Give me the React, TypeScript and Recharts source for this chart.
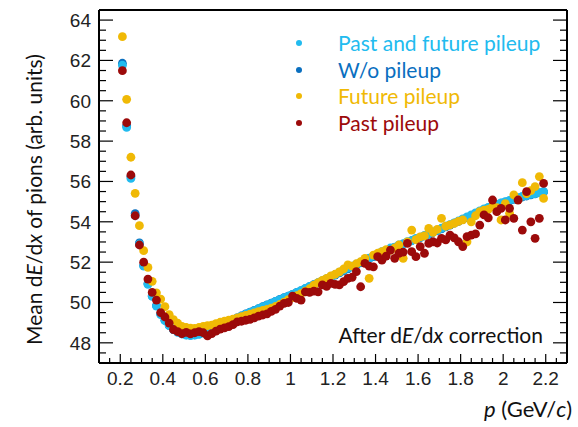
import { ScatterChart, Scatter, XAxis, YAxis } from 'recharts'

// momentum bins (GeV/c)
const momentum = [
  0.21, 0.23, 0.25, 0.27, 0.29, 0.31, 0.33, 0.35, 0.37, 0.39,
  0.41, 0.43, 0.45, 0.47, 0.49, 0.51, 0.53, 0.55, 0.57, 0.59,
  0.61, 0.63, 0.65, 0.67, 0.69, 0.71, 0.73, 0.75, 0.77, 0.79,
  0.81, 0.83, 0.85, 0.87, 0.89, 0.91, 0.93, 0.95, 0.97, 0.99,
  1.01, 1.03, 1.05, 1.07, 1.09, 1.11, 1.13, 1.15, 1.17, 1.19,
  1.21, 1.23, 1.25, 1.27, 1.29, 1.31, 1.33, 1.35, 1.37, 1.39,
  1.41, 1.43, 1.45, 1.47, 1.49, 1.51, 1.53, 1.55, 1.57, 1.59,
  1.61, 1.63, 1.65, 1.67, 1.69, 1.71, 1.73, 1.75, 1.77, 1.79,
  1.81, 1.83, 1.85, 1.87, 1.89, 1.91, 1.93, 1.95, 1.97, 1.99,
  2.01, 2.03, 2.05, 2.07, 2.09, 2.11, 2.13, 2.15, 2.17, 2.19,
]

const pastAndFuture = [
  61.76, 58.68, 56.15, 54.30, 52.90, 51.80, 50.90, 50.30, 49.82, 49.40,
  49.10, 48.85, 48.65, 48.52, 48.44, 48.38, 48.36, 48.38, 48.42, 48.48,
  48.56, 48.66, 48.76, 48.86, 48.96, 49.05, 49.14, 49.24, 49.33, 49.42,
  49.51, 49.60, 49.69, 49.78, 49.87, 49.96, 50.05, 50.14, 50.23, 50.32,
  50.40, 50.50, 50.60, 50.70, 50.80, 50.88, 50.98, 51.08, 51.18, 51.28,
  51.38, 51.50, 51.60, 51.70, 51.80, 51.90, 52.00, 52.10, 52.20, 52.30,
  52.40, 52.52, 52.58, 52.70, 52.74, 52.86, 52.90, 53.02, 53.06, 53.18,
  53.24, 53.32, 53.40, 53.50, 53.58, 53.68, 53.78, 53.86, 53.95, 54.04,
  54.14, 54.24, 54.34, 54.44, 54.54, 54.64, 54.72, 54.80, 54.86, 54.94,
  55.00, 55.06, 55.14, 55.20, 55.26, 55.30, 55.36, 55.40, 55.45, 55.50,
]

const noPileup = [
  61.86, 58.76, 56.24, 54.40, 52.95, 51.84, 50.94, 50.33, 49.85, 49.44,
  49.12, 48.86, 48.66, 48.54, 48.45, 48.40, 48.38, 48.40, 48.44, 48.50,
  48.57, 48.67, 48.77, 48.86, 48.95, 49.05, 49.15, 49.24, 49.34, 49.43,
  49.52, 49.61, 49.70, 49.79, 49.88, 49.97, 50.06, 50.15, 50.24, 50.32,
  50.40, 50.50, 50.58, 50.68, 50.78, 50.88, 50.97, 51.06, 51.16, 51.26,
  51.36, 51.47, 51.57, 51.67, 51.77, 51.87, 51.97, 52.07, 52.17, 52.27,
  52.37, 52.47, 52.56, 52.65, 52.73, 52.82, 52.90, 52.98, 53.06, 53.14,
  53.22, 53.30, 53.38, 53.47, 53.56, 53.65, 53.75, 53.84, 53.93, 54.02,
  54.11, 54.21, 54.31, 54.41, 54.51, 54.60, 54.69, 54.77, 54.84, 54.92,
  54.98, 55.04, 55.11, 55.17, 55.23, 55.28, 55.33, 55.38, 55.43, 55.48,
]

const futurePileup = [
  63.18, 60.07, 57.20, 55.41, 53.81, 52.57, 51.74, 51.05, 50.48, 50.17,
  49.79, 49.40, 49.15, 48.97, 48.82, 48.76, 48.73, 48.72, 48.76, 48.82,
  48.85, 48.88, 48.95, 49.02, 49.08, 49.13, 49.18, 49.24, 49.30, 49.36,
  49.42, 49.48, 49.55, 49.61, 49.66, 49.72, 49.80, 49.90, 50.02, 50.14,
  50.24, 50.34, 50.44, 50.56, 50.68, 50.86, 50.98, 51.10, 51.20, 51.32,
  51.40, 51.52, 51.66, 51.86, 51.80, 51.92, 52.02, 52.19, 51.20, 52.35,
  52.44, 52.52, 52.62, 52.58, 52.70, 52.85, 52.19, 53.00, 53.59, 53.12,
  53.25, 53.30, 53.67, 53.48, 53.62, 54.17, 53.78, 53.85, 53.92, 54.02,
  54.10, 53.01, 54.00, 54.30, 54.50, 54.58, 54.62, 54.75, 54.70, 54.09,
  54.90, 54.42, 55.33, 55.10, 55.94, 55.40, 55.55, 55.74, 56.24, 55.16,
]

const pastPileup = [
  61.49, 58.91, 56.32, 54.30, 52.85, 52.00, 51.16, 50.50, 50.12, 49.50,
  49.28, 48.98, 48.66, 48.56, 48.45, 48.52, 48.44, 48.50, 48.56, 48.50,
  48.34, 48.46, 48.58, 48.68, 48.74, 48.80, 48.90, 49.04, 49.07, 49.12,
  49.16, 49.24, 49.32, 49.38, 49.44, 49.56, 49.66, 49.82, 49.96, 50.00,
  50.32, 50.20, 50.12, 50.53, 50.50, 50.56, 50.53, 50.87, 50.80, 50.95,
  50.90, 50.87, 51.03, 51.20, 51.25, 51.53, 50.78, 51.94, 51.80, 51.77,
  52.27, 52.10, 52.30, 52.60, 52.19, 52.44, 52.50, 52.93, 52.52, 52.27,
  52.77, 52.44, 52.93, 53.01, 52.95, 53.18, 53.10, 53.34, 53.20, 53.01,
  52.77, 53.26, 53.34, 53.40, 53.84, 54.34, 54.20, 55.08, 54.50, 54.67,
  54.09, 54.67, 54.17, 55.08, 53.59, 55.50, 54.00, 53.18, 54.17, 55.90,
]

const xTicks = [
  0.1, 0.15, 0.2, 0.25, 0.3, 0.35, 0.4, 0.45, 0.5, 0.55, 0.6, 0.65, 0.7, 0.75,
  0.8, 0.85, 0.9, 0.95, 1, 1.05, 1.1, 1.15, 1.2, 1.25, 1.3, 1.35, 1.4, 1.45,
  1.5, 1.55, 1.6, 1.65, 1.7, 1.75, 1.8, 1.85, 1.9, 1.95, 2, 2.05, 2.1, 2.15,
  2.2, 2.25, 2.3,
]
const xMajor = [0.2, 0.4, 0.6, 0.8, 1, 1.2, 1.4, 1.6, 1.8, 2, 2.2]

const yTicks = [
  47, 47.5, 48, 48.5, 49, 49.5, 50, 50.5, 51, 51.5, 52, 52.5, 53, 53.5, 54, 54.5,
  55, 55.5, 56, 56.5, 57, 57.5, 58, 58.5, 59, 59.5, 60, 60.5, 61, 61.5, 62, 62.5,
  63, 63.5, 64, 64.5,
]
const yMajor = [48, 50, 52, 54, 56, 58, 60, 62, 64]

const series = [
  { name: 'W/o pileup', color: '#0a6fbf', values: noPileup },
  { name: 'Past and future pileup', color: '#22bbef', values: pastAndFuture },
  { name: 'Future pileup', color: '#f0b905', values: futurePileup },
  { name: 'Past pileup', color: '#9c0a0a', values: pastPileup },
]
const legendOrder = ['Past and future pileup', 'W/o pileup', 'Future pileup', 'Past pileup']

const tickFont = '"Liberation Sans", Arial, sans-serif'
const textFont = 'Lato, "Open Sans", sans-serif'

const isMajor = (v: number, majors: number[]) => majors.some((m) => Math.abs(m - v) < 1e-6)

const BottomTick = ({ x, y, payload }: any) => {
  const major = isMajor(payload.value, xMajor)
  return (
    <g>
      <line x1={x} x2={x} y1={y} y2={y - (major ? 9 : 5)} stroke="#000" strokeWidth={1.2} />
      {major && (
        <text x={x} y={y + 22} textAnchor="middle" fontSize={19} fontFamily={tickFont} fill="#222">
          {payload.value}
        </text>
      )}
    </g>
  )
}

const TopTick = ({ x, y, payload }: any) => {
  const major = isMajor(payload.value, xMajor)
  return <line x1={x} x2={x} y1={y} y2={y + (major ? 9 : 5)} stroke="#000" strokeWidth={1.2} />
}

const LeftTick = ({ x, y, payload }: any) => {
  const major = isMajor(payload.value, yMajor)
  return (
    <g>
      <line x1={x} x2={x + (major ? 14 : 7)} y1={y} y2={y} stroke="#000" strokeWidth={1.2} />
      {major && (
        <text x={x - 8} y={y + 7} textAnchor="end" fontSize={19} fontFamily={tickFont} fill="#222">
          {payload.value}
        </text>
      )}
    </g>
  )
}

const RightTick = ({ x, y, payload }: any) => {
  const major = isMajor(payload.value, yMajor)
  return <line x1={x} x2={x - (major ? 14 : 7)} y1={y} y2={y} stroke="#000" strokeWidth={1.2} />
}

const XTitle = () => (
  <text x={572} y={417} textAnchor="end" fontSize={22} fontFamily={textFont} fill="#111">
    <tspan fontStyle="italic">p</tspan> (GeV/<tspan fontStyle="italic">c</tspan>)
  </text>
)

const YTitle = () => (
  <text
    x={41.5}
    y={345}
    transform="rotate(-90, 41.5, 345)"
    textAnchor="start"
    fontSize={21}
    fontFamily={textFont}
    fill="#111"
  >
    Mean d<tspan fontStyle="italic">E</tspan>/d<tspan fontStyle="italic">x</tspan> of pions (arb. units)
  </text>
)

const Note = () => (
  <text x={543} y={343} textAnchor="end" fontSize={21} fontFamily={textFont} fill="#111">
    After d<tspan fontStyle="italic">E</tspan>/d<tspan fontStyle="italic">x</tspan> correction
  </text>
)

const LegendBox = () => (
  <div
    style={{
      position: 'absolute',
      left: 290,
      top: 29.6,
      width: 280,
      fontFamily: textFont,
      fontSize: 21,
      pointerEvents: 'none',
    }}
  >
    {legendOrder.map((name) => {
      const s = series.find((d) => d.name === name)!
      return (
        <div key={name} style={{ display: 'flex', alignItems: 'center', height: 26.7 }}>
          <span
            style={{
              display: 'inline-block',
              width: 6,
              height: 6,
              borderRadius: 3,
              background: s.color,
              marginLeft: 6,
              marginRight: 36,
            }}
          />
          <span style={{ color: s.color, lineHeight: '26px' }}>{name}</span>
        </div>
      )
    })}
  </div>
)

const Dot = (color: string) => (props: any) => (
  <circle cx={props.cx} cy={props.cy} r={4.4} fill={color} />
)

export default function App() {
  return (
    <div style={{ position: 'absolute', left: 0, top: 0, width: 578, height: 427, background: '#fff' }}>
      <ScatterChart width={578} height={427} margin={{ top: 9, right: 10, bottom: 0, left: 0 }}>
        <XAxis
          xAxisId="b"
          type="number"
          dataKey="p"
          domain={[0.1, 2.3]}
          allowDataOverflow
          ticks={xTicks}
          interval={0}
          height={64}
          tickSize={0}
          tickMargin={0}
          tickLine={false}
          tick={<BottomTick />}
          axisLine={{ stroke: '#000', strokeWidth: 2 }}
          label={{ content: XTitle }}
        />
        <XAxis
          xAxisId="t"
          orientation="top"
          type="number"
          domain={[0.1, 2.3]}
          allowDataOverflow
          ticks={xTicks}
          interval={0}
          height={1}
          tickSize={0}
          tickMargin={0}
          tickLine={false}
          tick={<TopTick />}
          axisLine={{ stroke: '#000', strokeWidth: 2 }}
        />
        <YAxis
          yAxisId="l"
          type="number"
          dataKey="v"
          domain={[47, 64.5]}
          allowDataOverflow
          ticks={yTicks}
          interval={0}
          width={99}
          tickSize={0}
          tickMargin={0}
          tickLine={false}
          tick={<LeftTick />}
          axisLine={{ stroke: '#000', strokeWidth: 2 }}
          label={{ content: YTitle }}
        />
        <YAxis
          yAxisId="r"
          orientation="right"
          type="number"
          domain={[47, 64.5]}
          allowDataOverflow
          ticks={yTicks}
          interval={0}
          width={1}
          tickSize={0}
          tickMargin={0}
          tickLine={false}
          tick={<RightTick />}
          axisLine={{ stroke: '#000', strokeWidth: 2 }}
          label={{ content: Note }}
        />
        {series.map((s) => (
          <Scatter
            key={s.name}
            name={s.name}
            xAxisId="b"
            yAxisId="l"
            data={momentum.map((p, i) => ({ p, v: s.values[i] }))}
            fill={s.color}
            shape={Dot(s.color)}
            isAnimationActive={false}
          />
        ))}
      </ScatterChart>
      <LegendBox />
    </div>
  )
}
